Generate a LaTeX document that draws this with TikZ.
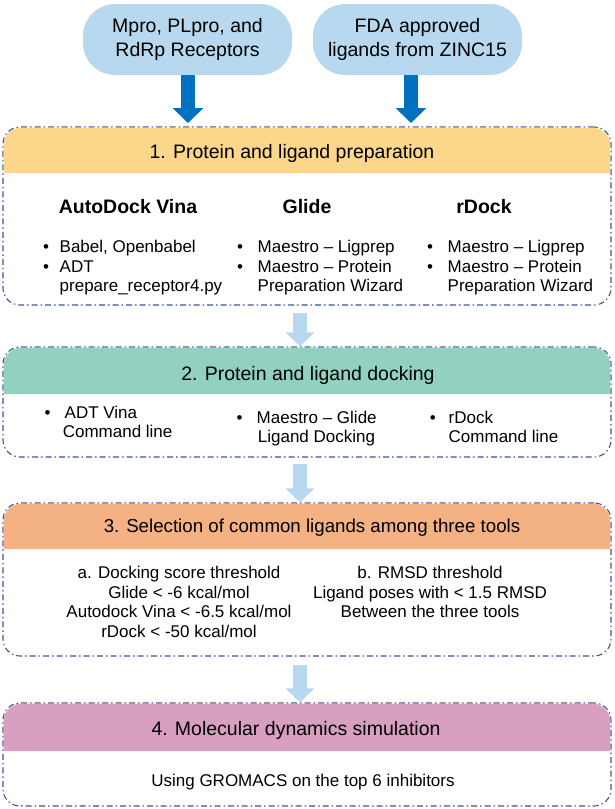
\documentclass[tikz,border=0pt]{standalone}
\usepackage{fontspec}
\setmainfont{Liberation Sans}
\usetikzlibrary{arrows.meta}
\definecolor{pillc}{RGB}{183,216,238}
\definecolor{darkarrow}{RGB}{0,112,192}
\definecolor{lightarrow}{RGB}{183,216,238}
\definecolor{hyellow}{RGB}{252,214,138}
\definecolor{hteal}{RGB}{146,208,192}
\definecolor{horange}{RGB}{244,177,131}
\definecolor{hpink}{RGB}{216,160,192}
\definecolor{framec}{RGB}{58,86,150}
\tikzset{
  pill/.style={fill=pillc, rounded corners=32pt, minimum width=209pt, minimum height=71pt, align=center, inner sep=0pt, font=\fontsize{19.5}{24}\selectfont},
  frame/.style={draw=framec, line width=1.1pt, rounded corners=17pt, dash pattern=on 6pt off 3pt on 1.5pt off 3pt, minimum width=608pt, inner sep=0pt},
  htext/.style={font=\fontsize{19.5}{22}\selectfont, inner sep=0pt},
  body/.style={font=\fontsize{17}{20}\selectfont, inner sep=0pt, anchor=base west},
  cbody/.style={font=\fontsize{17}{19.7}\selectfont, inner sep=0pt, align=center},
  colhead/.style={font=\fontsize{19.5}{22}\selectfont\bfseries, inner sep=0pt, anchor=base},
  bul/.style={font=\fontsize{17}{20}\selectfont, inner sep=0pt, anchor=base},
  darr/.style={draw=darkarrow, line width=14.5pt, -{Triangle[width=30pt,length=15pt]}},
  larr/.style={draw=lightarrow, line width=14pt, -{Triangle[width=28pt,length=14pt]}},
}
\begin{document}
\begin{tikzpicture}[x=1pt,y=-1pt]
\useasboundingbox (0,0) rectangle (614,809);

% top pills
\node[pill] (recep) at (187.5,39.5) {Mpro, PLpro, and\\RdRp Receptors};
\node[pill] (lig) at (417.5,39.5) {FDA approved\\ligands from ZINC15};

% frame 1
\node[frame, minimum height=178pt] (f1) at (307,216) {};
\fill[hyellow] (3.6,173) [rounded corners=18pt] -- (3.6,127.6) -- (610.4,127.6) [sharp corners] -- (610.4,173) -- cycle;
\node[htext] (h1) at (292,153) {1. Protein and ligand preparation};

\coordinate (t1) at (188,123);
\coordinate (t2) at (411,123);
\draw[darr] (recep.south -| t1) -- (t1);
\draw[darr] (lig.south -| t2) -- (t2);

\node[colhead] (c1) at (128,213) {AutoDock Vina};
\node[colhead] (c2) at (307,213) {Glide};
\node[colhead] (c3) at (484,213) {rDock};

\node[bul] (b11) at (46,252) {\textbullet};
\node[body] (l11) at (59.5,252) {Babel, Openbabel};
\node[bul] (b12) at (46,272) {\textbullet};
\node[body] (l12) at (59.5,272) {ADT};
\node[body] (l13) at (59.5,291.5) {prepare\_receptor4.py};

\node[bul] (b21) at (240,252) {\textbullet};
\node[body] (l21) at (257.5,252) {Maestro -- Ligprep};
\node[bul] (b22) at (240,272) {\textbullet};
\node[body] (l22) at (257.5,272) {Maestro -- Protein};
\node[body] (l23) at (257.5,291.5) {Preparation Wizard};

\node[bul] (b31) at (430,252) {\textbullet};
\node[body] (l31) at (447.5,252) {Maestro -- Ligprep};
\node[bul] (b32) at (430,272) {\textbullet};
\node[body] (l32) at (447.5,272) {Maestro -- Protein};
\node[body] (l33) at (447.5,291.5) {Preparation Wizard};

% frame 2
\node[frame, minimum height=110pt] (f2) at (307,402) {};
\fill[hteal] (3.6,394) [rounded corners=18pt] -- (3.6,347.6) -- (610.4,347.6) [sharp corners] -- (610.4,394) -- cycle;
\node[htext] (h2) at (308,375) {2. Protein and ligand docking};
\draw[larr] ([xshift=-7pt]f1.south) ++(0,7) -- ([xshift=-7pt]f2.north);

\node[bul] (d11) at (47.7,418) {\textbullet};
\node[body] (e11) at (64.5,418) {ADT Vina};
\node[body] (e12) at (62.6,437) {Command line};
\node[bul] (d21) at (239.6,423) {\textbullet};
\node[body] (e21) at (256.5,423) {Maestro -- Glide};
\node[body] (e22) at (257.7,442) {Ligand Docking};
\node[bul] (d31) at (432.8,423) {\textbullet};
\node[body] (e31) at (448.5,423) {rDock};
\node[body] (e32) at (448.5,442) {Command line};

% frame 3
\node[frame, minimum height=153pt] (f3) at (307,579.5) {};
\fill[horange] (3.6,549) [rounded corners=18pt] -- (3.6,503.6) -- (610.4,503.6) [sharp corners] -- (610.4,549) -- cycle;
\node[htext, font=\fontsize{18.7}{22}\selectfont] (h3) at (312,528) {3. Selection of common ligands among three tools};
\draw[larr] ([xshift=-7pt]f2.south) ++(0,6) -- ([xshift=-7pt]f3.north);

\node[cbody, anchor=north] (sa) at (179,566) {a. Docking score threshold\\Glide < -6 kcal/mol\\Autodock Vina < -6.5 kcal/mol\\rDock < -50 kcal/mol};
\node[cbody, anchor=north] (sb) at (430,566) {b. RMSD threshold\\Ligand poses with < 1.5 RMSD\\Between the three tools};

% frame 4
\node[frame, minimum height=103pt] (f4) at (307,754.5) {};
\fill[hpink] (3.6,751) [rounded corners=18pt] -- (3.6,703.6) -- (610.4,703.6) [sharp corners] -- (610.4,751) -- cycle;
\node[htext] (h4) at (296,730) {4. Molecular dynamics simulation};
\draw[larr] ([xshift=-7pt]f3.south) ++(0,8) -- ([xshift=-7pt]f4.north);

\node[cbody] (g) at (303,782) {Using GROMACS on the top 6 inhibitors};
\end{tikzpicture}
\end{document}
